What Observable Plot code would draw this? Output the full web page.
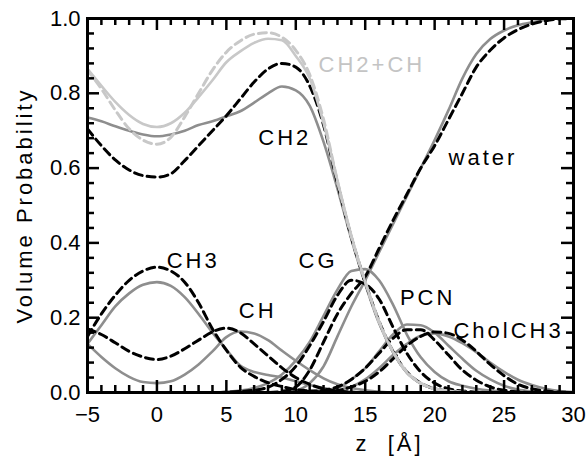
<!DOCTYPE html>
<html><head><meta charset="utf-8">
<script src="https://cdn.jsdelivr.net/npm/d3@7"></script>
<script src="https://cdn.jsdelivr.net/npm/@observablehq/plot@0.6"></script>
<style>
html,body{margin:0;padding:0;background:#fff;}
#chart{width:586px;height:460px;}
#chart svg{font-family:'Liberation Sans', Arial, sans-serif;font-size:22px;color:black;background:white;}
</style></head><body><div id="chart"></div>
<script>
// z positions [Å]
const z = [-5,-4,-3,-2,-1,0,1,2,3,4,5,6,7,8,9,10,11,12,13,14,15,16,17,18,19,20,21,22,23,24,25,26,27,28,29,30];

// simulation (solid) and model (dashed) volume probabilities
const ch2Sim   = [0.735,0.725,0.712,0.70,0.69,0.685,0.69,0.70,0.715,0.725,0.738,0.752,0.775,0.80,0.818,0.808,0.767,0.67,0.545,0.41,0.29,0.185,0.108,0.053,0.024,0.01,0.004,0.001,0,0,0,0,0,0,0,0];
const ch2Mod   = [0.705,0.66,0.622,0.595,0.58,0.576,0.585,0.62,0.66,0.70,0.74,0.785,0.83,0.865,0.88,0.87,0.82,0.715,0.56,0.415,0.295,0.19,0.11,0.055,0.025,0.01,0.004,0.001,0,0,0,0,0,0,0,0];
const ch2chSim = [0.865,0.82,0.777,0.742,0.718,0.71,0.72,0.748,0.79,0.835,0.883,0.912,0.935,0.946,0.942,0.90,0.84,0.72,0.567,0.42,0.296,0.187,0.108,0.053,0.024,0.01,0.004,0.001,0,0,0,0,0,0,0,0];
const ch2chMod = [0.862,0.812,0.755,0.705,0.675,0.664,0.682,0.737,0.80,0.862,0.91,0.94,0.958,0.962,0.95,0.915,0.85,0.73,0.565,0.416,0.296,0.19,0.11,0.055,0.025,0.01,0.004,0.001,0,0,0,0,0,0,0,0];
const ch3Sim   = [0.13,0.18,0.23,0.265,0.288,0.295,0.285,0.255,0.21,0.16,0.115,0.072,0.055,0.047,0.04,0.03,0.02,0.012,0.006,0.002,0,0,0,0,0,0,0,0,0,0,0,0,0,0,0,0];
const ch3Mod   = [0.15,0.21,0.26,0.30,0.325,0.335,0.325,0.295,0.24,0.17,0.113,0.068,0.043,0.026,0.016,0.008,0.004,0.001,0,0,0,0,0,0,0,0,0,0,0,0,0,0,0,0,0,0];
const chSim    = [0.13,0.095,0.065,0.042,0.028,0.025,0.03,0.048,0.075,0.11,0.148,0.163,0.158,0.14,0.112,0.085,0.06,0.038,0.022,0.012,0.006,0.002,0,0,0,0,0,0,0,0,0,0,0,0,0,0];
const chMod    = [0.17,0.155,0.133,0.11,0.095,0.088,0.097,0.117,0.14,0.162,0.172,0.16,0.13,0.098,0.066,0.04,0.022,0.01,0.004,0.001,0,0,0,0,0,0,0,0,0,0,0,0,0,0,0,0];
const cgSim    = [0,0,0,0,0,0,0,0,0,0,0.002,0.005,0.012,0.025,0.048,0.085,0.135,0.205,0.275,0.325,0.33,0.30,0.235,0.155,0.094,0.055,0.03,0.018,0.01,0.005,0.002,0,0,0,0,0];
const cgMod    = [0,0,0,0,0,0,0,0,0,0,0.001,0.003,0.006,0.014,0.035,0.07,0.125,0.19,0.26,0.30,0.29,0.25,0.175,0.105,0.055,0.025,0.01,0.004,0.001,0,0,0,0,0,0,0];
const waterSim = [0,0,0,0,0,0,0,0,0,0,0,0,0,0,0,0.005,0.025,0.07,0.15,0.23,0.30,0.375,0.45,0.525,0.60,0.675,0.755,0.84,0.905,0.945,0.968,0.982,0.99,0.996,1,1];
const waterMod = [0,0,0,0,0,0,0,0,0,0,0,0,0,0,0.003,0.015,0.06,0.135,0.21,0.265,0.31,0.385,0.46,0.53,0.60,0.66,0.73,0.80,0.87,0.915,0.948,0.97,0.985,0.994,0.999,1];
const pcnSim   = [0,0,0,0,0,0,0,0,0,0,0,0,0,0,0,0.002,0.004,0.006,0.012,0.035,0.065,0.11,0.155,0.182,0.18,0.16,0.125,0.09,0.058,0.035,0.018,0.008,0.003,0,0,0];
const pcnMod   = [0,0,0,0,0,0,0,0,0,0,0,0,0,0,0,0,0.003,0.006,0.015,0.035,0.065,0.105,0.145,0.168,0.168,0.14,0.10,0.06,0.033,0.015,0.006,0.002,0,0,0,0];
const cholSim  = [0,0,0,0,0,0,0,0,0,0,0,0,0,0,0,0,0,0.003,0.006,0.015,0.035,0.065,0.10,0.13,0.152,0.158,0.15,0.132,0.108,0.08,0.055,0.034,0.02,0.01,0.004,0.001];
const cholMod  = [0,0,0,0,0,0,0,0,0,0,0,0,0,0,0,0,0,0.002,0.005,0.015,0.03,0.055,0.09,0.125,0.15,0.162,0.158,0.14,0.11,0.075,0.045,0.022,0.01,0.004,0.001,0];

// ticks
const xMajor = [-5,0,5,10,15,20,25,30];
const xMinor = d3.range(-5,31).filter(v => v % 5 !== 0);
const yMajor = [0,0.2,0.4,0.6,0.8,1.0];
const yMinor = [0.04,0.08,0.12,0.16,0.24,0.28,0.32,0.36,0.44,0.48,0.52,0.56,0.64,0.68,0.72,0.76,0.84,0.88,0.92,0.96];

// curve labels (anchor = start of text baseline, in data units)
const blackLabels = [
  {text:"CH2", x:7.3, y:0.663},
  {text:"water", x:21.0, y:0.607},
  {text:"CH3", x:0.7, y:0.334},
  {text:"CH", x:5.9, y:0.2},
  {text:"CG", x:10.2, y:0.334},
  {text:"PCN", x:17.5, y:0.233},
  {text:"CholCH3", x:21.35, y:0.147}
];
const grayLabels = [{text:"CH2+CH", x:11.64, y:0.856}];
const xTitle = [{text:"z\u00a0\u00a0[Å]", x:14.3}];

const rows = z.map((v,i) => ({z:v, ch2Sim:ch2Sim[i], ch2Mod:ch2Mod[i], ch2chSim:ch2chSim[i], ch2chMod:ch2chMod[i],
  ch3Sim:ch3Sim[i], ch3Mod:ch3Mod[i], chSim:chSim[i], chMod:chMod[i], cgSim:cgSim[i], cgMod:cgMod[i],
  waterSim:waterSim[i], waterMod:waterMod[i], pcnSim:pcnSim[i], pcnMod:pcnMod[i], cholSim:cholSim[i], cholMod:cholMod[i]}));

const W=586, H=460, mL=87, mR=13, mT=18, mB=68;
const innerW = W-mL-mR, innerH = H-mT-mB;
const xDom = [-5,30], yDom = [0,1];
const major = 12, minor = 7; // tick lengths in px
// tick lengths converted to data units through the scale extents
const xLen = px => px * (xDom[1]-xDom[0]) / innerW;
const yLen = px => px * (yDom[1]-yDom[0]) / innerH;
const GRAY = "#8e8e8e", LIGHT = "#c8c8c8";

const solid = (key, color) => Plot.line(rows, {x:"z", y:key, stroke:color, strokeWidth:2.6, curve:"monotone-x"});
const dashed = (key, color) => Plot.line(rows, {x:"z", y:key, stroke:color, strokeWidth:3, strokeDasharray:"8,5", curve:"monotone-x"});
const tk = {stroke:"black", strokeWidth:2.5};

const chart = Plot.plot({
  width:W, height:H, marginLeft:mL, marginRight:mR, marginTop:mT, marginBottom:mB,
  x:{domain:xDom, ticks:xMajor, tickSize:0, tickPadding:14, label:null},
  y:{domain:yDom, ticks:yMajor, tickSize:0, tickPadding:7, tickFormat:".1f", label:null},
  marks:[
    solid("ch3Sim",GRAY), solid("chSim",GRAY), solid("cgSim",GRAY), solid("pcnSim",GRAY),
    solid("cholSim",GRAY), solid("waterSim",GRAY), solid("ch2Sim",GRAY),
    dashed("ch3Mod","black"), dashed("chMod","black"), dashed("cgMod","black"), dashed("pcnMod","black"),
    dashed("cholMod","black"), dashed("waterMod","black"), dashed("ch2Mod","black"),
    solid("ch2chSim",LIGHT), dashed("ch2chMod",LIGHT),
    // inward ticks on all four sides
    Plot.ruleX(xMajor, {x:d=>d, y1:yDom[0], y2:yDom[0]+yLen(major), ...tk}),
    Plot.ruleX(xMajor, {x:d=>d, y1:yDom[1]-yLen(major), y2:yDom[1], ...tk}),
    Plot.ruleX(xMinor, {x:d=>d, y1:yDom[0], y2:yDom[0]+yLen(minor), ...tk}),
    Plot.ruleX(xMinor, {x:d=>d, y1:yDom[1]-yLen(minor), y2:yDom[1], ...tk}),
    Plot.ruleY(yMajor, {y:d=>d, x1:xDom[0], x2:xDom[0]+xLen(major), ...tk}),
    Plot.ruleY(yMajor, {y:d=>d, x1:xDom[1]-xLen(major), x2:xDom[1], ...tk}),
    Plot.ruleY(yMinor, {y:d=>d, x1:xDom[0], x2:xDom[0]+xLen(minor), ...tk}),
    Plot.ruleY(yMinor, {y:d=>d, x1:xDom[1]-xLen(minor), x2:xDom[1], ...tk}),
    Plot.frame({stroke:"black", strokeWidth:3}),
    Plot.text(blackLabels, {x:"x", y:"y", text:"text", fill:"black", textAnchor:"start", lineAnchor:"bottom", fontSize:22}),
    Plot.text(grayLabels, {x:"x", y:"y", text:"text", fill:"#c4c4c4", textAnchor:"start", lineAnchor:"bottom", fontSize:22}),
    Plot.text(xTitle, {x:"x", text:"text", frameAnchor:"bottom", dy:58, textAnchor:"start", lineAnchor:"bottom", fill:"black", fontSize:22}),
    Plot.text(["Volume Probability"], {text:d=>d, frameAnchor:"left", rotate:-90, dx:-62.5, textAnchor:"middle", fill:"black", fontSize:22})
  ]
});
chart.querySelectorAll('g[aria-label="text"] text').forEach(t => t.setAttribute("letter-spacing","3"));
document.getElementById("chart").appendChild(chart);
</script>
</body></html>
